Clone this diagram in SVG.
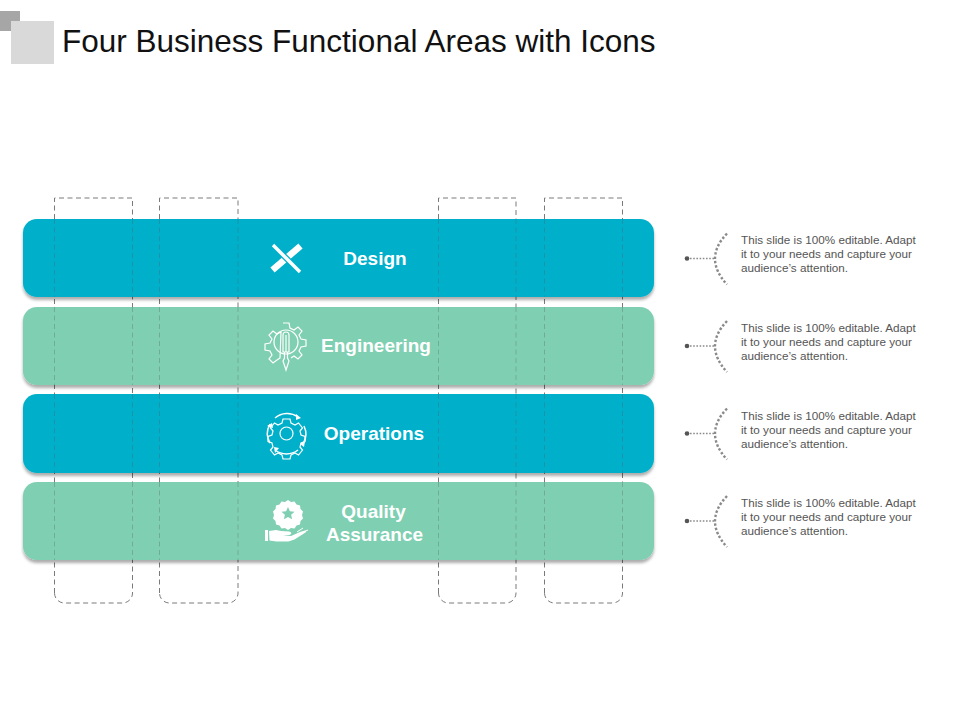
<svg xmlns="http://www.w3.org/2000/svg" width="960" height="720" viewBox="0 0 960 720">
<style>
text{font-family:"Liberation Sans",Arial,sans-serif}
.title{font-size:31.5px;fill:#111}
.lab{font-size:19px;font-weight:700;fill:#fff;text-anchor:middle}
.note{font-size:11.7px;fill:#555}
.bar{filter:url(#sh)}
.blue{fill:#00b0ca}
.green{fill:#7fcfb2}
.dash{fill:none;stroke:#7a7a7a;stroke-width:1;stroke-dasharray:5 3.5}
.under{fill:none;stroke:#555;stroke-opacity:.3;stroke-width:1;stroke-dasharray:5 3.5}
.ic{fill:none;stroke:#fff;stroke-width:1.2}
.icf{fill:#fff}
.dot{fill:none;stroke:#8a8a8a;stroke-width:1.6;stroke-dasharray:1.6 1.6}
.arc{fill:none;stroke:#8a8a8a;stroke-width:2.4;stroke-dasharray:2.4 2}
</style>
<defs>
<filter id="sh" x="-5%" y="-20%" width="110%" height="140%"><feDropShadow dx="0" dy="3" stdDeviation="1.6" flood-color="#000" flood-opacity=".32"/></filter>
<path id="cage" d="M54.5 603V198H132.5V603" />
<g id="callout">
<circle cx="687" cy="0" r="2.3" fill="#555"/>
<path class="dot" d="M690 0H714"/>
<path class="arc" d="M727 -25Q703 0 727 26"/>
</g>
</defs>
<g id="header">
<rect x="0" y="11" width="20" height="20" fill="#a6a6a6"/>
<rect x="11" y="21" width="43" height="43" fill="#d9d9d9"/>
<text class="title" x="62" y="52">Four Business Functional Areas with Icons</text>
</g>
<g id="cages">
<path class="dash" d="M54.5 593V198H132.5V593A10 10 0 0 1 122.5 603H64.500A10 10 0 0 1 54.5 593Z"/>
<path class="dash" d="M159.500 593V198H238V593A10 10 0 0 1 228 603H169.500A10 10 0 0 1 159.500 593Z"/>
<path class="dash" d="M438.500 593V198H516V593A10 10 0 0 1 506 603H448.500A10 10 0 0 1 438.500 593Z"/>
<path class="dash" d="M544.500 593V198H622.500V593A10 10 0 0 1 612.500 603H554.500A10 10 0 0 1 544.500 593Z"/>
</g>
<g id="node-design">
<rect class="bar blue" x="23" y="219" width="631" height="78" rx="14"/>
<g id="icon-design">
<path d="M272.500 270L300.500 246" stroke="#fff" stroke-width="6.500" fill="none"/>
<path d="M273 245L300 272" stroke="#00b0ca" stroke-width="6" fill="none"/>
<path d="M273 245L300 272" stroke="#fff" stroke-width="3.400" fill="none"/>
</g>
<text class="lab" x="375" y="265">Design</text>
</g>
<g id="node-engineering">
<rect class="bar green" x="23" y="307" width="631" height="78" rx="14"/>
<g id="icon-engineering" class="ic">
<path d="M283 323h6l1 5 4 2 4-3 4 4-3 4 2 4 5 1v6l-5 1-2 4 3 4-4 4-4-3-3 2M280 358l-3 2-4 3-4-4 3-4-2-4-5-1v-6l5-1 2-4-3-4 4-4 4 3 4-2z"/>
<circle cx="286" cy="342" r="12"/>
<path d="M283 335a3 3 0 0 1 6 0v17h-6zM286 335v17M284.500 352v6l-1.500 3 3 9 3-9-1.500-3v-6"/>
</g>
<text class="lab" x="376" y="352">Engineering</text>
</g>
<g id="node-operations">
<rect class="bar blue" x="23" y="394" width="631" height="79" rx="14"/>
<g id="icon-operations" class="ic">
<path d="M283 419h7l1 4 4 2 3.500-2 4 5-2.500 3 1 4 4 1.500v5l-4 1.500-1 4 2.500 3-4 5-3.500-2-4 2-1 4h-7l-1-4-4-2-3.500 2-4-5 2.500-3-1-4-4-1.500v-5l4-1.500 1-4-2.500-3 4-5 3.500 2 4-2z"/>
<circle cx="286.500" cy="433.500" r="6.500"/>
<path stroke-width="1.500" d="M275 418a19 19 0 0 1 23-1M304 426a19 19 0 0 1-1 18M298 450a19 19 0 0 1-23 0M270 443a19 19 0 0 1 0-19"/>
<path class="icf" stroke="none" d="M296 414l5 4-5 2zM305 441l-1 6-4-3zM274 447l1 6 4-5zM267 426l5-3 1 5z"/>
</g>
<text class="lab" x="374" y="440">Operations</text>
</g>
<g id="node-quality">
<rect class="bar green" x="23" y="482" width="631" height="78" rx="14"/>
<g id="icon-quality">
<path class="icf" d="M288 500l3 2 3.500-.5 2 3 3.500 1 .5 3.500 2.500 2.500-1 3.500 1 3.500-2.500 2.500-.5 3.500-3.500 1-2 3-3.500-.5-3 2-3-2-3.500.5-2-3-3.500-1-.5-3.500-2.500-2.500 1-3.500-1-3.500 2.500-2.500.5-3.500 3.500-1 2-3 3.500.5z"/>
<path d="M288 507l1.900 4.200 4.600.5-3.400 3.100 1 4.500-4.100-2.300-4.100 2.300 1-4.500-3.400-3.100 4.600-.5z" fill="#7fcfb2"/>
<path class="icf" d="M265 530h3v11h-3zM269 531l7-1 5 1 8 .5c3 .5 3 3 0 3.500l-6 .5 8 .5 9-4 5-1.500c1.500 0 1.500 1 .5 2l-11 7-6 2h-12l-7-1z"/>
<path d="M297 532l6-4M301 533l7-3" stroke="#fff" stroke-width="1" fill="none"/>
</g>
<text class="lab"><tspan x="373.500" y="518">Quality</tspan><tspan x="374.500" y="540.500">Assurance</tspan></text>
</g>
<g id="cages-over-bars">
<path class="under" d="M54.500 219V297M132.500 219V297M159.500 219V297M238 219V297M438.500 219V297M516 219V297M544.500 219V297M622.500 219V297"/>
<path class="under" d="M54.500 307V385M132.500 307V385M159.500 307V385M238 307V385M438.500 307V385M516 307V385M544.500 307V385M622.500 307V385"/>
<path class="under" d="M54.500 394V473M132.500 394V473M159.500 394V473M238 394V473M438.500 394V473M516 394V473M544.500 394V473M622.500 394V473"/>
<path class="under" d="M54.500 482V560M132.500 482V560M159.500 482V560M238 482V560M438.500 482V560M516 482V560M544.500 482V560M622.500 482V560"/>
</g>
<g id="connectors">
<use href="#callout" y="258.500"/>
<use href="#callout" y="346"/>
<use href="#callout" y="433.500"/>
<use href="#callout" y="521"/>
</g>
<g id="note-1"><text class="note"><tspan x="741" y="244">This slide is 100% editable. Adapt</tspan><tspan x="741" y="258">it to your needs and capture your</tspan><tspan x="741" y="272">audience’s attention.</tspan></text></g>
<g id="note-2"><text class="note"><tspan x="741" y="332">This slide is 100% editable. Adapt</tspan><tspan x="741" y="346">it to your needs and capture your</tspan><tspan x="741" y="360">audience’s attention.</tspan></text></g>
<g id="note-3"><text class="note"><tspan x="741" y="420">This slide is 100% editable. Adapt</tspan><tspan x="741" y="434">it to your needs and capture your</tspan><tspan x="741" y="448">audience’s attention.</tspan></text></g>
<g id="note-4"><text class="note"><tspan x="741" y="507">This slide is 100% editable. Adapt</tspan><tspan x="741" y="521">it to your needs and capture your</tspan><tspan x="741" y="535">audience’s attention.</tspan></text></g>
</svg>
